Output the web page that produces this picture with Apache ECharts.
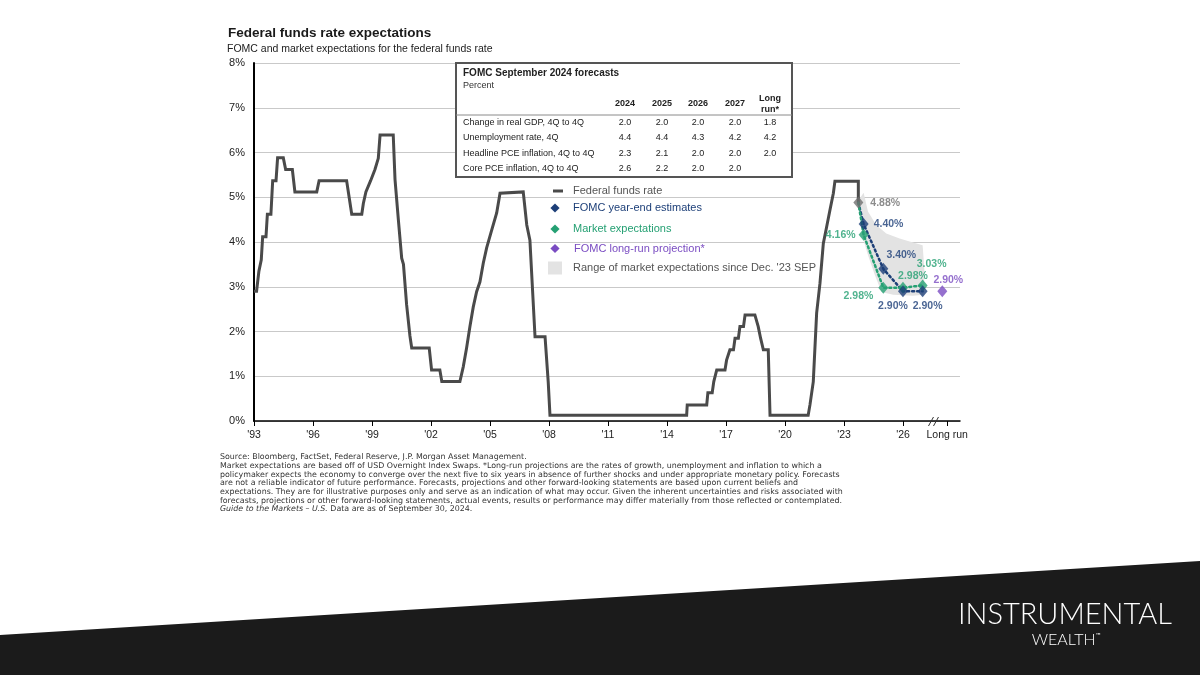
<!DOCTYPE html>
<html><head><meta charset="utf-8">
<script src="https://cdn.jsdelivr.net/npm/echarts@6.0.0/dist/echarts.min.js"></script>
<style>html,body{margin:0;padding:0;background:#fff}#c{width:1200px;height:675px}</style>
</head><body><div id="c"></div><script>
// ---------------- DATA ----------------
const xTickYears = [1993,1996,1999,2002,2005,2008,2011,2014,2017,2020,2023,2026];
const longRunTick = 2028.25;
const longRunLabel = 'Long run';

const fedFundsRate = [
 [1993.00,2.90],[1993.13,2.90],[1993.25,3.35],[1993.37,3.60],[1993.44,4.12],[1993.61,4.12],[1993.68,4.62],[1993.86,4.62],
 [1993.95,5.37],[1994.12,5.37],[1994.20,5.88],[1994.49,5.88],[1994.61,5.62],[1994.95,5.62],[1995.08,5.12],[1996.19,5.12],
 [1996.31,5.37],[1997.71,5.37],[1997.97,4.62],[1998.48,4.62],[1998.56,4.86],[1998.69,5.12],[1998.93,5.37],[1999.15,5.62],
 [1999.32,5.87],[1999.41,6.39],[2000.08,6.39],[2000.17,5.40],[2000.34,4.50],[2000.51,3.64],[2000.60,3.50],[2000.76,2.60],
 [2000.93,1.90],[2001.02,1.63],[2001.91,1.63],[2002.03,1.14],[2002.45,1.14],[2002.55,0.88],[2003.47,0.88],[2003.64,1.21],
 [2003.81,1.63],[2003.98,2.11],[2004.15,2.55],[2004.32,2.89],[2004.49,3.11],[2004.66,3.53],[2004.83,3.87],[2005.09,4.27],
 [2005.34,4.65],[2005.51,5.09],[2005.59,5.12],[2006.69,5.12],[2006.87,4.38],[2007.03,4.04],[2007.29,1.88],[2007.80,1.88],
 [2007.96,0.88],[2008.05,0.13],[2015.00,0.13],[2015.03,0.36],[2016.02,0.36],[2016.08,0.63],[2016.30,0.63],[2016.38,0.88],
 [2016.46,0.88],[2016.53,1.14],[2016.95,1.14],[2017.03,1.36],[2017.13,1.36],[2017.20,1.59],[2017.38,1.59],[2017.46,1.85],
 [2017.63,1.85],[2017.71,2.11],[2017.89,2.11],[2017.97,2.37],[2018.47,2.37],[2018.64,2.11],[2018.76,1.85],[2018.90,1.59],
 [2019.15,1.59],[2019.24,0.13],[2021.18,0.13],[2021.27,0.36],[2021.44,0.88],[2021.61,2.41],[2021.78,3.08],[2021.95,3.97],
 [2022.12,4.34],[2022.29,4.72],[2022.46,5.09],[2022.54,5.36],[2023.73,5.36]
];
const lastObserved = [2023.73, 4.88];

const fomcYears  = [2024, 2025, 2026, 2027];
const fomcValues = [4.40, 3.40, 2.90, 2.90];
const marketYears  = [2024, 2025, 2026, 2027];
const marketValues = [4.16, 2.98, 2.98, 3.03];
const longRunX = 2028.0;
const longRunValue = 2.90;

const rangeUpper = [[2023.73,4.93],[2024.00,5.10],[2024.22,4.68],[2024.64,4.38],[2025.15,4.19],[2025.83,4.08],[2026.34,4.01],[2027.00,3.93],[2027.10,3.30],[2027.05,2.90]];
const rangeLower = [[2023.73,4.85],[2023.82,4.53],[2023.97,4.08],[2024.22,3.71],[2024.57,3.26],[2024.91,2.88],[2025.50,2.82],[2026.50,2.80],[2027.05,2.82]];

const tableTitle = 'FOMC September 2024 forecasts';
const tableUnit = 'Percent';
const tableColumns = ['2024','2025','2026','2027','Long\nrun*'];
const tableRowLabels = ['Change in real GDP, 4Q to 4Q','Unemployment rate, 4Q','Headline PCE inflation, 4Q to 4Q','Core PCE inflation, 4Q to 4Q'];
const gdpRow      = ['2.0','2.0','2.0','2.0','1.8'];
const unempRow    = ['4.4','4.4','4.3','4.2','4.2'];
const headlineRow = ['2.3','2.1','2.0','2.0','2.0'];
const coreRow     = ['2.6','2.2','2.0','2.0',''];

const legendNames = ['Federal funds rate','FOMC year-end estimates','Market expectations','FOMC long-run projection*',"Range of market expectations since Dec. '23 SEP"];

const titleText = 'Federal funds rate expectations';
const subtitleText = 'FOMC and market expectations for the federal funds rate';
const footnoteLines = [
 'Source: Bloomberg, FactSet, Federal Reserve, J.P. Morgan Asset Management.',
 'Market expectations are based off of USD Overnight Index Swaps. *Long-run projections are the rates of growth, unemployment and inflation to which a',
 'policymaker expects the economy to converge over the next five to six years in absence of further shocks and under appropriate monetary policy. Forecasts',
 'are not a reliable indicator of future performance. Forecasts, projections and other forward-looking statements are based upon current beliefs and',
 'expectations. They are for illustrative purposes only and serve as an indication of what may occur. Given the inherent uncertainties and risks associated with',
 'forecasts, projections or other forward-looking statements, actual events, results or performance may differ materially from those reflected or contemplated.'
];
const footnoteGuideItalic = 'Guide to the Markets – U.S.';
const footnoteGuideRest = ' Data are as of September 30, 2024.';

// ---------------- STYLE ----------------
const FONT = "'Liberation Sans', Arial, sans-serif";
const FN_FONT = "'DejaVu Sans', sans-serif";
const FN_SIZE = 7.9;
const C = {line:'#4a4a4a', navy:'#1d3f78', green:'#25a073', purple:'#7a4cc2', gray:'#6f6f6f', range:'#e3e3e3', grid:'#c9c9c9'};
const pct = p => p.value[1].toFixed(2) + '%';
const labelBase = {show:true, fontFamily:FONT, fontWeight:'bold', fontSize:10.5, formatter:pct};

const fomcLabelPlacement = [
  {position:'right', distance:5, offset:[0,0]},
  {position:'top', distance:5, offset:[18,3]},
  {position:'bottom', distance:3, offset:[-10,0]},
  {position:'bottom', distance:3, offset:[5,0]}
];
const marketLabelPlacement = [
  {position:'left', distance:3, offset:[0,0]},
  {position:'left', distance:5, offset:[0,8]},
  {position:'top', distance:3, offset:[10,3]},
  {position:'top', distance:10, offset:[9,0]}
];

const chart = echarts.init(document.getElementById('c'), null, {renderer:'canvas'});

function tableGraphics() {
  const g = [];
  const left = 456, top = 63, w = 336, h = 114;
  const colX = [625, 662, 698, 735, 770];
  const rowY = [122.5, 138, 153.5, 169];
  const rows = [gdpRow, unempRow, headlineRow, coreRow];
  const txt = (text, x, y, opt) => ({type:'text', x, y, z:21, silent:true,
    style:Object.assign({text, fill:'#222', fontFamily:FONT, fontSize:9, align:'left', verticalAlign:'middle'}, opt||{})});
  g.push({type:'rect', z:20, silent:true, shape:{x:left, y:top, width:w, height:h}, style:{fill:'#fff', stroke:'#555', lineWidth:2}});
  g.push({type:'line', z:21, silent:true, shape:{x1:left, y1:115, x2:left+w, y2:115}, style:{stroke:'#8a8a8a', lineWidth:1}});
  g.push(txt(tableTitle, 463, 73, {fontWeight:'bold', fontSize:10}));
  g.push(txt(tableUnit, 463, 86, {fontSize:9, fill:'#333'}));
  tableColumns.forEach((c, i) => {
    g.push(txt(c, colX[i], 104, {fontWeight:'bold', align:'center', lineHeight:11}));
  });
  tableRowLabels.forEach((lab, r) => {
    g.push(txt(lab, 463, rowY[r]));
    rows[r].forEach((v, i) => g.push(txt(v, colX[i], rowY[r], {align:'center'})));
  });
  return g;
}

function legendGraphics() {
  const g = [];
  const tx = 573;
  const ys = [191, 208, 229, 248.5, 268];
  const colors = ['#555', C.navy, C.green, C.purple, '#555'];
  g.push({type:'rect', silent:true, z:15, shape:{x:553, y:ys[0]-1.5, width:10, height:3}, style:{fill:C.line}});
  [C.navy, C.green, C.purple].forEach((col, i) => {
    const cy = ys[i+1], cx = 555, r = 4.6;
    g.push({type:'polygon', silent:true, z:15, shape:{points:[[cx,cy-r],[cx+r,cy],[cx,cy+r],[cx-r,cy]]}, style:{fill:col}});
  });
  g.push({type:'rect', silent:true, z:15, shape:{x:548, y:ys[4]-6.5, width:14, height:13}, style:{fill:C.range}});
  legendNames.forEach((n, i) => g.push({type:'text', silent:true, z:15, x: i===3 ? tx+1 : tx, y: ys[i],
    style:{text:n, fill:colors[i], fontFamily:FONT, fontSize:11, align:'left', verticalAlign:'middle'}}));
  return g;
}

function pageGraphics() {
  const g = [];
  g.push({type:'text', silent:true, x:228, y:33, style:{text:titleText, fill:'#1a1a1a', fontFamily:FONT, fontWeight:'bold', fontSize:13.5, align:'left', verticalAlign:'middle'}});
  g.push({type:'text', silent:true, x:227, y:49, style:{text:subtitleText, fill:'#222', fontFamily:FONT, fontSize:10.5, align:'left', verticalAlign:'middle'}});
  const fy = [457, 466, 474.7, 483.3, 492, 500.6];
  footnoteLines.forEach((t, i) => g.push({type:'text', silent:true, x:220, y:fy[i],
    style:{text:t, fill:'#333', fontFamily:FN_FONT, fontSize:FN_SIZE, align:'left', verticalAlign:'middle'}}));
  g.push({type:'text', silent:true, x:220, y:509.3, style:{rich:{i:{fontStyle:'italic', fontFamily:FN_FONT, fontSize:FN_SIZE, fill:'#333'}, n:{fontFamily:FN_FONT, fontSize:FN_SIZE, fill:'#333'}},
    text:'{i|' + footnoteGuideItalic + '}{n|' + footnoteGuideRest + '}', align:'left', verticalAlign:'middle'}});
  // bottom band + logo
  g.push({type:'polygon', silent:true, z:0, shape:{points:[[0,635],[1200,561],[1200,675],[0,675]]}, style:{fill:'#1b1b1b'}});
  g.push({type:'text', silent:true, z:2, x:1065, y:615, style:{text:'INSTRUMENTAL', fill:'#fff', fontFamily:"Lato, 'Open Sans', sans-serif", fontWeight:300, fontSize:29, align:'center', verticalAlign:'middle'}});
  g.push({type:'text', silent:true, z:2, x:1066, y:640, style:{rich:{a:{fill:'#fff', fontFamily:"Lato, 'Open Sans', sans-serif", fontWeight:300, fontSize:16}, b:{fill:'#fff', fontFamily:"Lato, sans-serif", fontSize:6, verticalAlign:'top', padding:[0,0,8,0]}},
    text:'{a|WEALTH}{b|™}', align:'center', verticalAlign:'middle'}});
  return g;
}

const option = {
  backgroundColor:'#fff',
  animation:false,
  grid:{left:254, right:240, top:63, bottom:254, containLabel:false},
  xAxis:{type:'value', min:1993, max:2028.9,
    axisLine:{show:true, onZero:false, lineStyle:{color:'#000', width:1.5}},
    axisTick:{show:true, customValues:xTickYears.concat([longRunTick]), length:5, lineStyle:{color:'#000', width:1}},
    axisLabel:{show:true, customValues:xTickYears.concat([longRunTick]), margin:9, color:'#222', fontFamily:FONT, fontSize:10.5,
      formatter:v => Math.abs(v - longRunTick) < 0.01 ? longRunLabel : "'" + String(Math.round(v)).slice(2)},
    splitLine:{show:false}},
  yAxis:{type:'value', min:0, max:8, interval:1,
    axisLine:{show:true, lineStyle:{color:'#000', width:2}},
    axisTick:{show:false},
    axisLabel:{formatter:'{value}%', color:'#222', fontFamily:FONT, fontSize:11, margin:9},
    splitLine:{show:true, lineStyle:{color:C.grid, width:1}}},
  series:[
    {type:'custom', name:legendNames[4], silent:true, z:1, data:[rangeUpper[0]],
     renderItem:(params, api) => {
       const pts = rangeUpper.map(p => api.coord(p)).concat(rangeLower.slice().reverse().map(p => api.coord(p)));
       return {type:'polygon', shape:{points:pts}, style:{fill:C.range}};
     }},
    {type:'line', name:legendNames[0], data:fedFundsRate.concat([lastObserved]), showSymbol:false, symbol:'none', z:3,
     lineStyle:{color:C.line, width:3, join:'miter'}},
    {type:'line', name:'FOMC path', data:[lastObserved].concat(fomcYears.map((x,i)=>[x,fomcValues[i]])), symbol:'none', z:4,
     lineStyle:{color:C.navy, width:2.5, type:[2,3], cap:'round'}},
    {type:'line', name:'Market path', data:[lastObserved].concat(marketYears.map((x,i)=>[x,marketValues[i]])), symbol:'none', z:4,
     lineStyle:{color:C.green, width:2.5, type:[2,3], cap:'round'}},
    {type:'scatter', name:'Last observed', symbol:'diamond', symbolSize:[10,12], z:5,
     itemStyle:{color:'#6f6f6f'},
     data:[{value:lastObserved, label:Object.assign({}, labelBase, {position:'right', distance:7, color:C.gray})}]},
    {type:'scatter', name:legendNames[2], symbol:'diamond', symbolSize:[10,12], z:6, itemStyle:{color:C.green},
     data:marketYears.map((x,i)=>({value:[x,marketValues[i]], label:Object.assign({}, labelBase, {color:C.green}, marketLabelPlacement[i])}))},
    {type:'scatter', name:legendNames[1], symbol:'diamond', symbolSize:[10,12], z:7, itemStyle:{color:C.navy},
     data:fomcYears.map((x,i)=>({value:[x,fomcValues[i]], label:Object.assign({}, labelBase, {color:C.navy}, fomcLabelPlacement[i])}))},
    {type:'scatter', name:legendNames[3], symbol:'diamond', symbolSize:[10,12], z:7, itemStyle:{color:C.purple},
     data:[{value:[longRunX,longRunValue], label:Object.assign({}, labelBase, {color:C.purple, position:'top', distance:0, offset:[6,0]})}]}
  ],
  graphic:[]
};
chart.setOption(option);

// axis break marks positioned through the axis scale
const b = chart.convertToPixel({xAxisIndex:0, yAxisIndex:0}, [2027.45, 0]);
const breakMarks = [
  {type:'line', silent:true, z:20, shape:{x1:b[0]-3, y1:b[1]+5, x2:b[0]+2, y2:b[1]-4}, style:{stroke:'#333', lineWidth:1}},
  {type:'line', silent:true, z:20, shape:{x1:b[0]+2, y1:b[1]+5, x2:b[0]+7, y2:b[1]-4}, style:{stroke:'#333', lineWidth:1}}
];
chart.setOption({graphic: pageGraphics().concat(tableGraphics(), legendGraphics(), breakMarks)});
</script></body></html>
